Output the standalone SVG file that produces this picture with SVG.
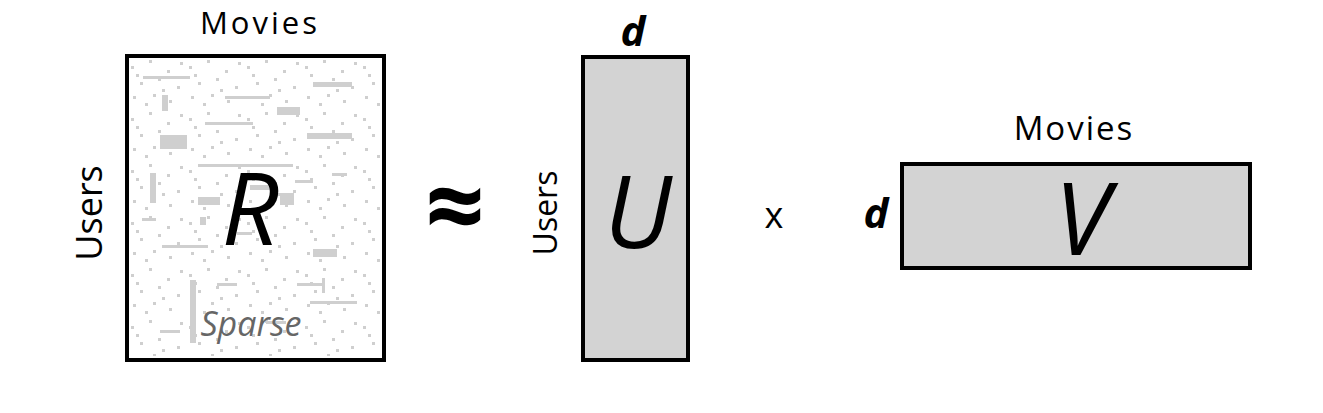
<svg xmlns="http://www.w3.org/2000/svg" width="1323" height="413" viewBox="0 0 1323 413">
<style>
.lbl{font-family:"Open Sans","Noto Sans",sans-serif;fill:#000}
.mv{font-size:33px;letter-spacing:2px}
.big{font-family:"Open Sans","Noto Sans",sans-serif;font-style:italic;fill:#000;font-size:100px}
.box{stroke:#000;stroke-width:4}
.sp{fill:#cfcfcf}
</style>
<defs>
<pattern id="dots" x="127" y="56" width="58" height="52" patternUnits="userSpaceOnUse">
<rect class="sp" x="4" y="10" width="3" height="3"/>
<rect class="sp" x="22" y="4" width="3" height="3"/>
<rect class="sp" x="40" y="14" width="3" height="3"/>
<rect class="sp" x="13" y="26" width="3" height="3"/>
<rect class="sp" x="31" y="22" width="3" height="3"/>
<rect class="sp" x="50" y="30" width="3" height="3"/>
<rect class="sp" x="6" y="40" width="3" height="3"/>
<rect class="sp" x="26" y="38" width="3" height="3"/>
<rect class="sp" x="42" y="44" width="3" height="3"/>
<rect class="sp" x="18" y="47" width="3" height="3"/>
<rect class="sp" x="53" y="6" width="3" height="3"/>
<rect class="sp" x="35" y="33" width="3" height="3"/>
<rect class="sp" x="9" y="18" width="3" height="3"/>
</pattern>
</defs>
<rect width="1323" height="413" fill="#fff"/>
<g id="R">
<rect x="127" y="56" width="257" height="304" fill="#fff"/>
<rect x="131" y="60" width="249" height="296" fill="url(#dots)"/>
<g class="sp">
<rect x="143" y="76" width="47" height="3"/>
<rect x="313" y="82" width="39" height="5"/>
<rect x="160" y="135" width="27" height="14"/>
<rect x="307" y="133" width="45" height="6"/>
<rect x="198" y="164" width="95" height="3"/>
<rect x="277" y="107" width="23" height="8"/>
<rect x="205" y="122" width="48" height="3"/>
<rect x="225" y="96" width="45" height="3"/>
<rect x="198" y="197" width="22" height="8"/>
<rect x="313" y="249" width="24" height="8"/>
<rect x="165" y="245" width="43" height="3"/>
<rect x="310" y="301" width="47" height="3"/>
<rect x="190" y="280" width="6" height="63"/>
<rect x="150" y="173" width="6" height="30"/>
<rect x="162" y="95" width="6" height="16"/>
<rect x="280" y="193" width="14" height="12"/>
<rect x="250" y="185" width="20" height="5"/>
<rect x="295" y="180" width="18" height="3"/>
<rect x="237" y="232" width="15" height="3"/>
<rect x="142" y="218" width="14" height="3"/>
<rect x="217" y="283" width="20" height="3"/>
<rect x="297" y="283" width="25" height="3"/>
<rect x="160" y="330" width="20" height="3"/>
<rect x="266" y="321" width="20" height="3"/>
<rect x="322" y="278" width="3" height="15"/>
<rect x="200" y="217" width="6" height="8"/>
<rect x="332" y="173" width="15" height="3"/>
</g>
<rect class="box" x="127" y="56" width="257" height="304" fill="none"/>
<text class="big" x="250" y="245" text-anchor="middle">R</text>
<text x="251" y="336" text-anchor="middle" font-family="Open Sans, Noto Sans, sans-serif" font-style="italic" font-size="34" fill="#666">Sparse</text>
<text class="lbl" x="260" y="34" text-anchor="middle" font-size="31" letter-spacing="3">Movies</text>
<text class="lbl" font-size="36" text-anchor="middle" transform="translate(102,213) rotate(-90)">Users</text>
</g>
<g id="approx">
<text class="lbl" x="455" y="243" text-anchor="middle" font-size="104" font-weight="bold">≈</text>
</g>
<g id="U">
<rect class="box" x="583" y="57" width="105" height="303" fill="#d3d3d3"/>
<text class="big" x="638" y="248" text-anchor="middle">U</text>
<text class="lbl" x="633" y="46" text-anchor="middle" font-size="42" font-weight="bold" font-style="italic">d</text>
<text class="lbl" font-size="32" text-anchor="middle" transform="translate(557,213) rotate(-90)">Users</text>
</g>
<g id="times">
<text class="lbl" x="774" y="228" text-anchor="middle" font-size="36">x</text>
</g>
<g id="V">
<rect class="box" x="902" y="164" width="348" height="104" fill="#d3d3d3"/>
<text class="big" x="1082" y="255" text-anchor="middle">V</text>
<text class="lbl" x="876" y="228" text-anchor="middle" font-size="42" font-weight="bold" font-style="italic">d</text>
<text class="lbl mv" x="1074" y="140" text-anchor="middle">Movies</text>
</g>
</svg>
